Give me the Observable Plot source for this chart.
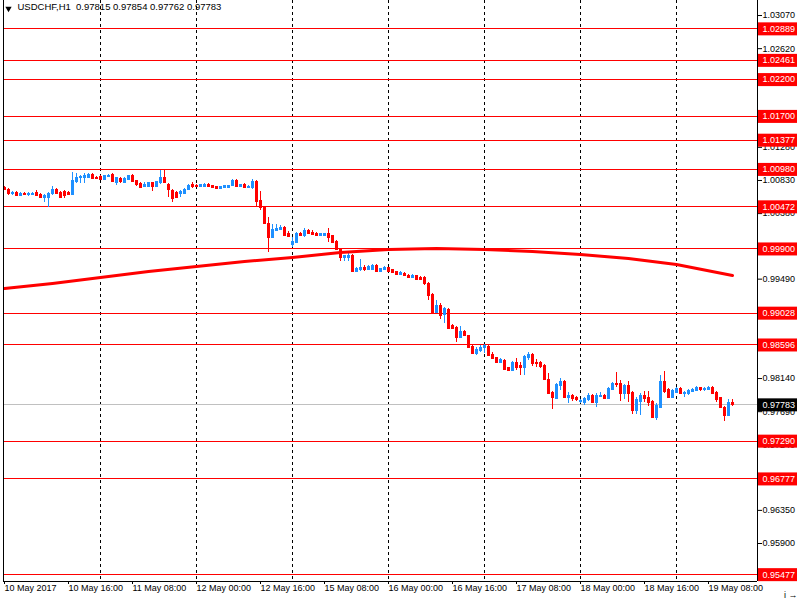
<!DOCTYPE html>
<html><head><meta charset="utf-8">
<script src="https://cdn.jsdelivr.net/npm/d3@7"></script>
<script src="https://cdn.jsdelivr.net/npm/@observablehq/plot@0.6"></script>
<style>body{margin:0;background:#fff}</style>
</head><body><div id="chart"></div>
<script>
const symbol = "USDCHF,H1";
const open = [
1.00735,1.00707,1.00653,1.00667,1.00626,1.00653,1.00640,1.00640,1.00667,1.00640,
1.00599,1.00599,1.00653,1.00707,1.00667,1.00680,1.00667,1.00640,1.00816,1.00870,
1.00870,1.00870,1.00911,1.00870,1.00884,1.00843,1.00884,1.00911,1.00802,1.00857,
1.00802,1.00843,1.00898,1.00830,1.00789,1.00748,1.00748,1.00802,1.00748,1.00802,
1.00870,1.00775,1.00694,1.00667,1.00653,1.00653,1.00707,1.00775,1.00762,1.00748,
1.00748,1.00775,1.00762,1.00748,1.00721,1.00735,1.00735,1.00762,1.00830,1.00748,
1.00775,1.00735,1.00735,1.00816,1.00558,1.00463,1.00246,1.00055,1.00151,1.00164,
1.00191,1.00110,0.99960,0.99988,1.00110,1.00083,1.00151,1.00123,1.00110,1.00083,
1.00083,1.00110,1.00083,1.00001,0.99893,0.99784,0.99784,0.99811,0.99594,0.99621,
0.99648,0.99621,0.99621,0.99675,0.99594,0.99621,0.99648,0.99621,0.99594,0.99553,
0.99567,0.99539,0.99512,0.99539,0.99512,0.99512,0.99431,0.99281,0.99037,0.99132,
0.99010,0.99078,0.98860,0.98833,0.98697,0.98779,0.98725,0.98575,0.98480,0.98521,
0.98562,0.98575,0.98467,0.98426,0.98358,0.98385,0.98290,0.98249,0.98358,0.98317,
0.98290,0.98426,0.98467,0.98358,0.98358,0.98317,0.98127,0.97951,0.97869,0.98046,
0.98100,0.97883,0.97910,0.97883,0.97828,0.97815,0.97855,0.97910,0.97815,0.97896,
0.97910,0.97869,0.97991,0.98073,0.98073,0.97937,0.98046,0.97951,0.97706,0.97828,
0.97910,0.97883,0.97828,0.97611,0.97747,0.98100,0.97991,0.97883,0.97951,0.98005,
0.97937,0.97937,0.97964,0.97978,0.98018,0.97991,0.97991,0.98018,0.97951,0.97883,
0.97747,0.97638,0.97815];
const high = [
1.00748,1.00721,1.00680,1.00680,1.00667,1.00667,1.00667,1.00667,1.00694,1.00653,
1.00640,1.00667,1.00748,1.00721,1.00680,1.00694,1.00680,1.00938,1.00925,1.00898,
1.00925,1.00925,1.00925,1.00884,1.00898,1.00898,1.00911,1.00925,1.00870,1.00870,
1.00870,1.00898,1.00911,1.00830,1.00802,1.00802,1.00802,1.00802,1.00816,1.00965,
1.00965,1.00789,1.00707,1.00680,1.00694,1.00721,1.00775,1.00802,1.00775,1.00775,
1.00789,1.00789,1.00762,1.00748,1.00748,1.00762,1.00762,1.00843,1.00843,1.00775,
1.00789,1.00762,1.00843,1.00830,1.00680,1.00477,1.00327,1.00232,1.00232,1.00219,
1.00205,1.00137,1.00055,1.00123,1.00123,1.00178,1.00164,1.00151,1.00123,1.00110,
1.00110,1.00178,1.00083,1.00015,0.99893,0.99811,0.99838,0.99825,0.99648,0.99757,
0.99675,0.99675,0.99689,0.99689,0.99634,0.99662,0.99648,0.99621,0.99594,0.99594,
0.99580,0.99553,0.99553,0.99539,0.99526,0.99526,0.99444,0.99295,0.99200,0.99159,
0.99105,0.99091,0.98874,0.98847,0.98847,0.98793,0.98725,0.98589,0.98562,0.98589,
0.98602,0.98589,0.98494,0.98426,0.98412,0.98399,0.98290,0.98372,0.98412,0.98358,
0.98453,0.98494,0.98480,0.98399,0.98372,0.98331,0.98209,0.97964,0.98073,0.98141,
0.98114,0.97951,0.97923,0.97896,0.97855,0.97883,0.97937,0.97923,0.97937,0.97951,
0.97923,0.98018,0.98086,0.98222,0.98114,0.98059,0.98100,0.97964,0.97883,0.97937,
0.97964,0.97964,0.97842,0.97801,0.98181,0.98236,0.98005,0.97991,0.98018,0.98018,
0.97964,0.97991,0.98005,0.98032,0.98018,0.98018,0.98032,0.98032,0.97964,0.97883,
0.97760,0.97855,0.97854];
const low = [
1.00694,1.00626,1.00626,1.00626,1.00626,1.00626,1.00612,1.00640,1.00612,1.00599,
1.00531,1.00463,1.00626,1.00640,1.00599,1.00585,1.00626,1.00640,1.00789,1.00789,
1.00789,1.00857,1.00857,1.00843,1.00843,1.00843,1.00884,1.00802,1.00762,1.00789,
1.00802,1.00843,1.00816,1.00748,1.00735,1.00735,1.00748,1.00680,1.00748,1.00775,
1.00802,1.00599,1.00531,1.00599,1.00599,1.00640,1.00694,1.00721,1.00735,1.00748,
1.00748,1.00735,1.00721,1.00707,1.00721,1.00721,1.00735,1.00748,1.00748,1.00735,
1.00721,1.00721,1.00707,1.00477,1.00422,1.00232,0.99852,1.00042,1.00151,1.00164,
1.00083,1.00055,0.99920,0.99988,1.00069,1.00055,1.00096,1.00096,1.00083,1.00083,
1.00083,0.99988,0.99974,0.99879,0.99730,0.99730,0.99730,0.99594,0.99580,0.99594,
0.99594,0.99607,0.99607,0.99594,0.99594,0.99607,0.99594,0.99580,0.99539,0.99539,
0.99526,0.99512,0.99512,0.99485,0.99472,0.99404,0.99200,0.99010,0.99023,0.98942,
0.98888,0.98820,0.98806,0.98630,0.98684,0.98711,0.98562,0.98467,0.98453,0.98494,
0.98480,0.98453,0.98399,0.98358,0.98344,0.98249,0.98236,0.98249,0.98249,0.98181,
0.98181,0.98385,0.98304,0.98290,0.98276,0.98114,0.97937,0.97720,0.97855,0.97978,
0.97883,0.97801,0.97828,0.97828,0.97801,0.97774,0.97828,0.97815,0.97747,0.97883,
0.97869,0.97855,0.97978,0.98018,0.97828,0.97855,0.97815,0.97652,0.97652,0.97638,
0.97815,0.97760,0.97611,0.97570,0.97733,0.97937,0.97883,0.97883,0.97951,0.97923,
0.97883,0.97910,0.97951,0.97978,0.97964,0.97964,0.97978,0.97937,0.97815,0.97733,
0.97557,0.97638,0.97762];
const close = [
1.00707,1.00653,1.00667,1.00626,1.00653,1.00640,1.00653,1.00653,1.00626,1.00599,
1.00626,1.00653,1.00707,1.00653,1.00599,1.00626,1.00640,1.00830,1.00870,1.00884,
1.00898,1.00911,1.00857,1.00857,1.00843,1.00898,1.00898,1.00816,1.00870,1.00816,
1.00857,1.00898,1.00816,1.00775,1.00735,1.00775,1.00802,1.00748,1.00816,1.00870,
1.00802,1.00707,1.00585,1.00599,1.00680,1.00707,1.00762,1.00748,1.00748,1.00775,
1.00775,1.00748,1.00735,1.00721,1.00748,1.00762,1.00762,1.00830,1.00748,1.00775,
1.00735,1.00748,1.00816,1.00544,1.00463,1.00246,1.00055,1.00164,1.00178,1.00191,
1.00083,1.00069,1.00001,1.00110,1.00083,1.00151,1.00110,1.00096,1.00083,1.00110,
1.00110,1.00055,0.99988,0.99893,0.99784,0.99811,0.99811,0.99594,0.99634,0.99648,
0.99621,0.99662,0.99675,0.99594,0.99634,0.99648,0.99594,0.99580,0.99553,0.99580,
0.99539,0.99512,0.99539,0.99485,0.99485,0.99431,0.99268,0.99023,0.99132,0.98996,
0.99091,0.98820,0.98820,0.98697,0.98779,0.98725,0.98562,0.98480,0.98534,0.98562,
0.98589,0.98453,0.98412,0.98358,0.98399,0.98263,0.98249,0.98358,0.98290,0.98290,
0.98439,0.98467,0.98344,0.98344,0.98304,0.98127,0.97937,0.97883,0.98059,0.98100,
0.97883,0.97910,0.97869,0.97855,0.97842,0.97869,0.97910,0.97815,0.97910,0.97910,
0.97869,0.98005,0.98073,0.98059,0.97937,0.98046,0.97937,0.97706,0.97855,0.97910,
0.97869,0.97815,0.97611,0.97774,0.98100,0.97964,0.97883,0.97978,0.98005,0.97937,
0.97951,0.97978,0.97991,0.98018,0.97991,0.98005,0.98018,0.97937,0.97855,0.97747,
0.97638,0.97815,0.97783];

const maIndex = [0,12,24,36,48,60,72,84,96,108,120,132,144,156,168,182];
const maValue = [0.99363,0.99431,0.99512,0.99594,0.99662,0.99730,0.99784,0.99852,0.99893,0.99906,0.99893,0.99865,0.99825,0.99770,0.99689,0.99539];

const levels = [1.02889,1.02461,1.02200,1.01700,1.01377,1.00980,1.00472,0.99900,0.99028,0.98596,0.97290,0.96777,0.95477];
const currentPrice = [0.97783];
const yTicks = [1.03070,1.02620,1.02170,1.01280,1.00830,1.00380,0.99490,0.98140,0.97690,0.97240,0.96350,0.95900,0.95450];
const timeTickIndex = [0,16,32,48,64,80,96,112,128,144,160,176];
const timeTickLabels = ["10 May 2017","10 May 16:00","11 May 08:00","12 May 00:00","12 May 16:00","15 May 08:00","16 May 00:00","16 May 16:00","17 May 08:00","18 May 00:00","18 May 16:00","19 May 08:00"];
const dayStartIndex = [24,48,72,96,120,144,168];

const bars = open.map((o, i) => ({i, o, h: high[i], l: low[i], c: close[i]}));
const bull = bars.filter(d => d.c >= d.o);
const bear = bars.filter(d => d.c < d.o);
const ma = maIndex.map((i, k) => ({i, v: maValue[k]}));
const n = open.length - 1;
const header = `${symbol}  ${open[n].toFixed(5)} ${high[n].toFixed(5)} ${low[n].toFixed(5)} ${close[n].toFixed(5)}`;

const xDomain = [-0.25, 188.25];
const yDomain = [0.95384, 1.03274];
const BLUE = "#1e90ff", RED = "#ff0000";
const half = 0.375;

function candles(data, color) {
  return [
    Plot.ruleX(data, {x: "i", y1: "l", y2: "h", stroke: color, shapeRendering: "crispEdges"}),
    Plot.rect(data, {x1: d => d.i - half, x2: d => d.i + half, y1: "o", y2: "c", fill: color, shapeRendering: "crispEdges"}),
    Plot.ruleY(data, {y: "o", x1: d => d.i - half, x2: d => d.i + half, stroke: color, shapeRendering: "crispEdges"}),
    Plot.ruleY(data, {y: "c", x1: d => d.i - half, x2: d => d.i + half, stroke: color, shapeRendering: "crispEdges"})
  ];
}

const chart = Plot.plot({
  width: 800, height: 600,
  marginLeft: 3, marginRight: 43, marginTop: 0, marginBottom: 19,
  x: {domain: xDomain, axis: null},
  y: {domain: yDomain, axis: null},
  style: {fontFamily: "'Liberation Sans', Arial, sans-serif", fontSize: "9px", background: "#fff", color: "#000", overflow: "visible"},
  marks: [
    Plot.ruleX(dayStartIndex, {stroke: "#000", strokeDasharray: "3,3", shapeRendering: "crispEdges"}),
    Plot.ruleY(levels, {stroke: RED, shapeRendering: "crispEdges"}),
    Plot.ruleY(currentPrice, {stroke: "#c0c0c0", shapeRendering: "crispEdges"}),
    ...candles(bull, BLUE),
    ...candles(bear, RED),
    Plot.line(ma, {x: "i", y: "v", stroke: RED, strokeWidth: 3}),
    Plot.ruleX([xDomain[0], xDomain[1]], {stroke: "#000", shapeRendering: "crispEdges"}),
    Plot.ruleY([yDomain[0]], {stroke: "#000", shapeRendering: "crispEdges"}),
    Plot.axisY(yTicks, {anchor: "right", tickSize: 4, tickPadding: 1, tickFormat: d => d.toFixed(5), fontSize: 9}),
    Plot.axisX(timeTickIndex, {anchor: "bottom", tickSize: 3, tickPadding: 0, textAnchor: "start", tickFormat: d => timeTickLabels[timeTickIndex.indexOf(d)], fontSize: 9}),
    Plot.rect(levels, {x1: xDomain[1], x2: xDomain[1], y1: d => d, y2: d => d, insetLeft: 1, insetRight: -40, insetTop: -6, insetBottom: -7, fill: RED}),
    Plot.text(levels, {x: xDomain[1], y: d => d, text: d => d.toFixed(5), textAnchor: "start", dx: 5, fill: "#fff", fontSize: 9}),
    Plot.rect(currentPrice, {x1: xDomain[1], x2: xDomain[1], y1: d => d, y2: d => d, insetLeft: 1, insetRight: -40, insetTop: -6, insetBottom: -7, fill: "#000"}),
    Plot.text(currentPrice, {x: xDomain[1], y: d => d, text: d => d.toFixed(5), textAnchor: "start", dx: 5, fill: "#fff", fontSize: 9}),
    Plot.dot([0], {frameAnchor: "top-left", dx: 5, dy: 8, symbol: "triangle2", r: 3, fill: "#000", rotate: 180}),
    Plot.text([header], {frameAnchor: "top-left", dx: 14, dy: 3, textAnchor: "start", lineAnchor: "top", fontSize: 9.5, fill: "#000"})
  ]
});
document.getElementById("chart").appendChild(chart);
</script>
</body></html>
